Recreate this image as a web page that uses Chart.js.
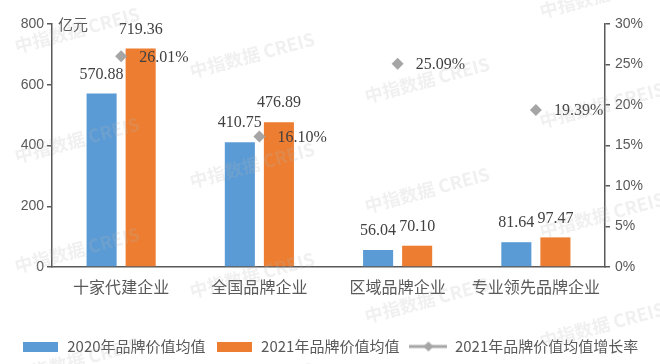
<!DOCTYPE html>
<html>
<head>
<meta charset="utf-8">
<script src="https://cdn.jsdelivr.net/npm/chart.js@4/dist/chart.umd.min.js"></script>
<style>
  html, body { margin: 0; padding: 0; background: #fff; }
  #box { width: 660px; height: 364px; }
</style>
</head>
<body>
<div id="box"><canvas id="chart"></canvas></div>
<script>
// data
const categories = ['十家代建企业', '全国品牌企业', '区域品牌企业', '专业领先品牌企业']
const value2020 = [570.88, 410.75, 56.04, 81.64]
const value2021 = [719.36, 476.89, 70.10, 97.47]
const growth2021 = [26.01, 16.10, 25.09, 19.39]
const seriesNames = ['2020年品牌价值均值', '2021年品牌价值均值', '2021年品牌价值均值增长率']
const leftTicks = [0, 200, 400, 600, 800]
const rightTicks = [0, 5, 10, 15, 20, 25, 30]
const unitLabel = '亿元'
const watermark = '中指数据 CREIS'

const BLUE = '#5b9bd5'
const ORANGE = '#ed7d31'
const GREY = '#a5a5a5'
const TEXT = '#595959'

// little canvases used as legend markers
function boxMarker(color){
    const c = document.createElement('canvas')
    c.width = 35; c.height = 10
    const g = c.getContext('2d')
    g.fillStyle = color
    g.fillRect(0, 0, 35, 10)
    return c
}
function lineMarker(color){
    const c = document.createElement('canvas')
    c.width = 38; c.height = 12
    const g = c.getContext('2d')
    g.strokeStyle = color
    g.lineWidth = 3
    g.beginPath(); g.moveTo(0, 6); g.lineTo(38, 6); g.stroke()
    g.fillStyle = color
    g.beginPath(); g.moveTo(19, 1); g.lineTo(24, 6); g.lineTo(19, 11); g.lineTo(14, 6); g.closePath(); g.fill()
    return c
}
const markers = [boxMarker(BLUE), boxMarker(ORANGE), lineMarker(GREY)]

const labelPlugin = {
    id: 'valueLabels',
    afterDatasetsDraw(chart){
        const ctx = chart.ctx
        ctx.save()
        ctx.fillStyle = '#404040'
        ctx.font = '16px "Liberation Serif"'
        ctx.textBaseline = 'middle'
        ctx.textAlign = 'center'
        ;[0, 1].forEach(di => {
            chart.getDatasetMeta(di).data.forEach((bar, i) => {
                ctx.fillText(chart.data.datasets[di].data[i].toFixed(2), bar.x, bar.y - 19)
            })
        })
        ctx.textAlign = 'left'
        chart.getDatasetMeta(2).data.forEach((pt, i) => {
            ctx.fillText(growth2021[i].toFixed(2) + '%', pt.x + 18, pt.y + 1)
        })
        // unit at the top of the left axis
        ctx.fillStyle = TEXT
        ctx.font = '15px "Noto Sans CJK SC"'
        ctx.fillText(unitLabel, chart.chartArea.left + 6, chart.chartArea.top)
        ctx.restore()
    },
    afterDraw(chart){
        const ctx = chart.ctx
        ctx.save()
        ctx.font = 'bold 18px "Noto Sans CJK SC"'
        ctx.fillStyle = 'rgba(180,180,180,0.2)'
        ctx.textAlign = 'center'
        ctx.textBaseline = 'middle'
        for (let i = 0; i < 4; i++) {
            for (let j = -1; j < 4; j++) {
                ctx.save()
                ctx.translate(77 + 175 * i, 30 + 25 * i + 110 * j)
                ctx.rotate(-15 * Math.PI / 180)
                ctx.fillText(watermark, 0, 0)
                ctx.restore()
            }
        }
        ctx.restore()
    }
}

const ctx = document.getElementById('chart').getContext('2d')
new Chart(ctx, {
    data: {
        labels: categories,
        datasets: [
            {
                type: 'bar', label: seriesNames[0], data: value2020,
                backgroundColor: BLUE, yAxisID: 'y', order: 2,
                categoryPercentage: 0.565, barPercentage: 0.77
            },
            {
                type: 'bar', label: seriesNames[1], data: value2021,
                backgroundColor: ORANGE, yAxisID: 'y', order: 2,
                categoryPercentage: 0.565, barPercentage: 0.77
            },
            {
                type: 'line', label: seriesNames[2], data: growth2021,
                yAxisID: 'y1', showLine: false, order: 0,
                borderColor: GREY, backgroundColor: GREY,
                pointStyle: 'rectRot', pointRadius: 6, pointBorderWidth: 0
            }
        ]
    },
    options: {
        responsive: true,
        maintainAspectRatio: false,
        animation: false,
        layout: { padding: { top: 24, left: 0, right: 0, bottom: 0 } },
        plugins: {
            tooltip: { enabled: false },
            legend: {
                display: true,
                position: 'bottom',
                labels: {
                    color: TEXT,
                    font: { family: '"Noto Sans CJK SC"', size: 15 },
                    usePointStyle: true,
                    pointStyleWidth: 38,
                    padding: 10,
                    generateLabels(chart){
                        return chart.data.datasets.map((ds, i) => ({
                            text: ds.label,
                            pointStyle: markers[i],
                            fontColor: TEXT,
                            lineWidth: 0,
                            hidden: false,
                            datasetIndex: i
                        }))
                    }
                }
            }
        },
        scales: {
            x: {
                grid: { display: true, drawOnChartArea: false, drawTicks: false },
                border: { display: true, color: '#595959', width: 1.5 },
                ticks: { color: TEXT, padding: 10, font: { family: '"Noto Sans CJK SC"', size: 16 } },
                afterFit(scale){ scale.height = 62 }
            },
            y: {
                position: 'left',
                min: 0, max: 800,
                afterBuildTicks(scale){ scale.ticks = leftTicks.map(v => ({ value: v })) },
                grid: { display: true, drawOnChartArea: false, drawTicks: true, tickLength: 5, color: '#595959', lineWidth: 1.5 },
                border: { display: true, color: '#595959', width: 1.5 },
                ticks: { color: TEXT, padding: 3, font: { family: '"Liberation Sans"', size: 14 } },
                afterFit(scale){ scale.width = 52 }
            },
            y1: {
                position: 'right',
                min: 0, max: 30,
                afterBuildTicks(scale){ scale.ticks = rightTicks.map(v => ({ value: v })) },
                grid: { display: true, drawOnChartArea: false, drawTicks: true, tickLength: 5, color: '#595959', lineWidth: 1.5 },
                border: { display: true, color: '#595959', width: 1.5 },
                ticks: { color: TEXT, padding: 5, font: { family: '"Liberation Sans"', size: 14 }, callback: v => v + '%' },
                afterFit(scale){ scale.width = 55 }
            }
        }
    },
    plugins: [labelPlugin]
})
</script>
</body>
</html>
